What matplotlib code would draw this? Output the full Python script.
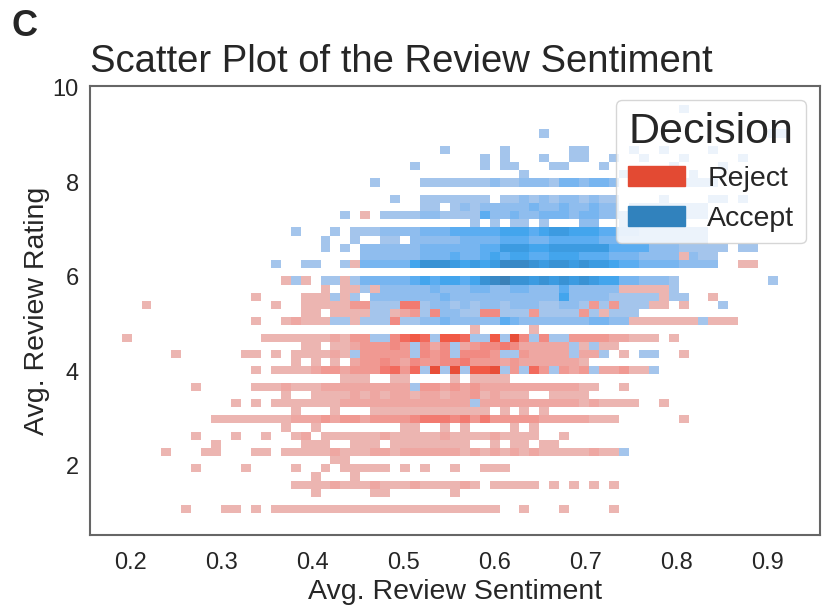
import numpy as np
import pandas as pd
import matplotlib
matplotlib.use('Agg')
import matplotlib.pyplot as plt
import seaborn as sns

# bin grid
x_start = 0.1898
x_step = 0.01094
y_start = 1.0
y_step = 0.1728

decisions = ['Reject', 'Accept']
decision_colors = ['#e34a33', '#3182bd']

x_ticks = [0.2, 0.3, 0.4, 0.5, 0.6, 0.7, 0.8, 0.9]
y_ticks = [2, 4, 6, 8, 10]

# one string per rating bin, top bin first, 67 sentiment bins each
# '.' = empty, '1'-'9' = Reject count, 'a'-'i' = Accept count 1-9
E = '..........'
E7 = '.......'
rows = [
    f"{E}|{E}|{E}|{E}|{E}|......a...|{E7}",
    f"{E}|{E}|{E}|{E}|{E}|{E}|{E7}",
    f"{E}|{E}|{E}|{E}|{E}|{E}|{E7}",
    f"{E}|{E}|{E}|{E}|..a.......|{E}|.....aa",
    f"{E}|{E}|{E}|{E}|{E}|{E}|{E7}",
    f"{E}|{E}|{E}|..a.....a.|.....aa...|.a..a....a|{E7}",
    f"{E}|{E}|{E}|......a.a.|..a..aa..a|..a...a...|..a....",
    f"{E}|{E}|.........a|......a.aa|...aa...a.|.....a....|a......",
    f"{E}|{E}|{E}|{E}|a.........|a..a...a..|{E7}",
    f"{E}|{E}|.....a....|aaaaaaabaa|bbbaccbccb|.aaaaaaaaa|{E7}",
    f"{E}|{E}|{E}|{E}|{E}|{E}|{E7}",
    f"{E}|{E}|.......a..|aaaaaaa.aa|bababbabaa|....a....a|a.a....",
    f"{E}|{E}|{E}|aa.ababbbb|bcbbcbbcbb|.aaaaaaaa.|{E7}",
    f"{E}|{E}|..a.1.aaaa|bbaaaadbbc|bbcccbccbb|aaaaaaaaa.|{E7}",
    f"{E}|{E}|{E}|.....a.a.a|a.a...bb..|a.a.a.....|{E7}",
    f"{E}|.......a..|.a.aaabbbb|cccdddddee|edeffeeedd|bbaaaaaaa.|{E7}",
    f"{E}|{E}|a..a..aa.b|bbbbccccdd|dccdddddcc|aaaaaaaaa.|{E7}",
    f"{E}|{E}|a.a.bbbbbb|ccccccddff|feeffffffd|dddbbbaaaa|a.aa...",
    f"{E}|{E}|....bbbbbb|cccdccdede|eddeeedddc|ccbbbb1baa|{E7}",
    f"{E}|.....a..aa|..a1ccccce|gggfefefhh|hgfggfgffe|ddccccbbbb|..11...",
    f"{E}|{E}|{E}|{E}|{E}|{E}|{E7}",
    f"{E}|......1a1.|aa1acccccd|edeedeghig|gfgfgfgfee|ccbbba....|.....a.",
    f"{E}|{E}|1.11a1bbbb|bcbbbccbbc|cbbbdbbbbb|11111a....|{E7}",
    f"{E}|...1....11|1a1a.bbbbb|bbcbbbbbbb|bbbbebbbba|aaaa1aa..1|{E7}",
    f"..1.......|.....1..11|11133aaa55|abbababbab|bbaabba3a3|aaa11.1...|a......",
    f"{E}|........11|.1111aa123|a4bbaa44aa|a3aaaa3a1a|aa........|{E7}",
    f"{E}|...1..1211|1aa1aaa4aa|bbcbbbbbdc|bbbbbbbccb|b1111111a1|11.....",
    f"{E}|{E}|{E}|.....1....|.1........|{E}|{E7}",
    f"1.........|....111111|12133aa467|6a776aa7a8|4a4aa33332|2111.1....|{E7}",
    f"{E}|........11|.11233343a|424a234454|22222a1a11|{E}|{E7}",
    f".....1....|..11.1.111|121a33333a|434a4443aa|32222a22a.|1.aa..1...|{E7}",
    f"{E}|.......1.1|.1.2334324|3344533323|2222221...|{E}|{E7}",
    f"{E}|...1.11112|3323335636|a8a8a778a3|a63a323a22|311a......|{E7}",
    f"{E}|{E}|..111..11.|...1.1111.|{E}|{E}|{E7}",
    f".......1..|...1112111|222222222a|3323232222|22222211..|1.........|{E7}",
    f"{E}|......1..1|1112121221|2212231211|1..1111...|{E}|{E7}",
    f"{E}|.1.1.11111|1122222222|22222a2222|2222221211|11..1.....|{E7}",
    f"{E}|.......1..|.1...11111|1111111.1.|1.1.......|{E}|{E7}",
    f".........1|1111111222|3233233334|5554535333|3322222111|......1...|{E7}",
    f"{E}|......1..1|........11|..1.1....1|.1........|{E}|{E7}",
    f".......1..|.1..1..12.|1111112111|1121111211|11..1.....|{E}|{E7}",
    f".........1|........11|1..111.111|11111..1.1|1.11......|{E}|{E7}",
    f"....1...11|...11.1111|1211122122|2222121212|1211111211|a.........|{E7}",
    f"{E}|{E}|.11.......|{E}|{E}|{E}|{E7}",
    f".......1..|..1....1..|1.11111.1.|1..1..111.|{E}|{E}|{E7}",
    f"{E}|.........1|...1......|{E}|{E}|{E}|{E7}",
    f"{E}|.......111|1211121112|111121.111|11.1.1.1.1|{E}|{E7}",
    f"{E}|.........1|.....11...|...1......|{E}|{E}|{E7}",
    f"{E}|{E}|{E}|{E}|{E}|{E}|{E7}",
    f"......1...|11.1.11111|1111111111|11111111..|1...1....1|{E}|{E7}",
]

grid = [r.replace('|', '') for r in rows]
n_rows = len(grid)
n_cols = len(grid[0])
x_edges = x_start + x_step * np.arange(n_cols + 1)
y_edges = y_start + y_step * np.arange(n_rows + 1)

recs = []
for i, line in enumerate(grid):
    r = n_rows - 1 - i
    for j, ch in enumerate(line):
        if ch == '.':
            continue
        xc = (x_edges[j] + x_edges[j + 1]) / 2
        yc = (y_edges[r] + y_edges[r + 1]) / 2
        if ch.isdigit():
            recs.append((xc, yc, 'Reject', int(ch)))
        else:
            recs.append((xc, yc, 'Accept', ord(ch) - 96))
df = pd.DataFrame(recs, columns=['sentiment', 'rating', 'Decision', 'n'])

sns.set_style('white')
plt.rcParams['font.family'] = ['Liberation Sans', 'DejaVu Sans']

fig = plt.figure(figsize=(8.31, 6.09), dpi=100)
ax = fig.add_axes([0.1083, 0.1215, 0.8785, 0.7373])

sns.histplot(data=df, x='sentiment', y='rating', hue='Decision', weights='n',
             hue_order=decisions, palette=dict(zip(decisions, decision_colors)),
             bins=(x_edges, y_edges), vmin=0.5, vmax=14, ax=ax)

ax.set_xlim(0.155, 0.958)
ax.set_ylim(0.54, 10.04)
ax.set_xticks(x_ticks)
ax.set_xticklabels([f'{t:.1f}' for t in x_ticks])
ax.set_yticks(y_ticks)
ax.tick_params(labelsize=17, labelcolor='0.15')
ax.tick_params(axis='x', pad=8.5)
ax.tick_params(axis='y', pad=4.5)
for s in ax.spines.values():
    s.set_color('0.4')
    s.set_linewidth(1.5)
ax.set_xlabel('Avg. Review Sentiment', fontsize=20.5, color='0.15')
ax.set_ylabel('Avg. Review Rating', fontsize=20.5, color='0.15', labelpad=2)
ax.set_title('Scatter Plot of the Review Sentiment', loc='left', fontsize=27.5,
             pad=10, color='0.15')

sns.move_legend(ax, 'upper right', fontsize=20.5, title_fontsize=31,
                handlelength=2.0, handleheight=0.7)

fig.text(0.014, 0.985, 'C', fontsize=26, fontweight='bold', va='top')

fig.savefig('out.png', dpi=100)
